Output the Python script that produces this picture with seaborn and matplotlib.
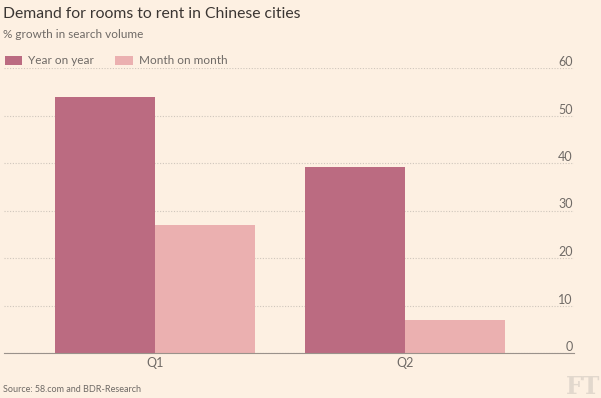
import pandas as pd
import seaborn as sns
import matplotlib.pyplot as plt

# Chart data
quarters = ["Q1", "Q2"]
year_on_year = [54.0, 39.2]
month_on_month = [27.0, 6.9]
series_names = ["Year on year", "Month on month"]
y_ticks = [0, 10, 20, 30, 40, 50, 60]

bg = "#fdf0e2"
colors = ["#bb6b81", "#ebb0b0"]
text_grey = "#6f6a66"

df = pd.DataFrame({
    "quarter": quarters * 2,
    "value": year_on_year + month_on_month,
    "series": [series_names[0]] * 2 + [series_names[1]] * 2,
})

sns.set_style("white")
plt.rcParams["font.family"] = ["Lato", "DejaVu Sans"]

fig = plt.figure(figsize=(6.01, 3.98), dpi=100, facecolor=bg)
ax = fig.add_axes([4 / 601, 45 / 398, 570 / 601, 285 / 398], facecolor=bg)

sns.barplot(data=df, x="quarter", y="value", hue="series", palette=colors,
            saturation=1, width=0.8, linewidth=0, ax=ax, legend=True)

ax.set_xlim(-0.604, 1.676)
ax.set_ylim(0, 60)
ax.set_yticks(y_ticks)
ax.set_xlabel("")
ax.set_ylabel("")

# dotted gridlines, solid baseline
ax.grid(axis="y", color="#cfc6bc", linestyle=(0, (1, 1.5)), linewidth=0.8)
ax.set_axisbelow(True)
for s in ["top", "right", "left"]:
    ax.spines[s].set_visible(False)
ax.spines["bottom"].set_color("#9a928b")
ax.spines["bottom"].set_linewidth(0.8)

ax.yaxis.tick_right()
ax.tick_params(axis="y", length=0, pad=-1, labelsize=9, labelcolor=text_grey)
for lab in ax.get_yticklabels():
    lab.set_horizontalalignment("right")
    lab.set_verticalalignment("bottom")
ax.tick_params(axis="x", length=0, pad=3, labelsize=9, labelcolor=text_grey)

# legend
handles, labels = ax.get_legend_handles_labels()
ax.legend(handles, labels, ncol=2, frameon=False, loc="center left",
          bbox_to_anchor=(1 / 601, 1 - 61 / 398), bbox_transform=fig.transFigure,
          handlelength=1.5, handleheight=0.9, handletextpad=0.5, columnspacing=1.8,
          fontsize=8.5, labelcolor=text_grey, borderaxespad=0, borderpad=0.3)

fig.text(3 / 601, 1 - 14 / 398, "Demand for rooms to rent in Chinese cities",
         fontsize=11.3, color="#3b3633", va="center", ha="left")
fig.text(3 / 601, 1 - 34 / 398, "% growth in search volume",
         fontsize=8.5, color=text_grey, va="center", ha="left")
fig.text(3 / 601, 1 - 389 / 398, "Source: 58.com and BDR-Research",
         fontsize=6.5, color=text_grey, va="center", ha="left")
fig.text(600 / 601, 1 - 387 / 398, "FT", fontsize=17, color="#e2d8cd",
         family="DejaVu Serif", weight="bold", va="center", ha="right")

fig.savefig("out.png", dpi=100, facecolor=bg)
